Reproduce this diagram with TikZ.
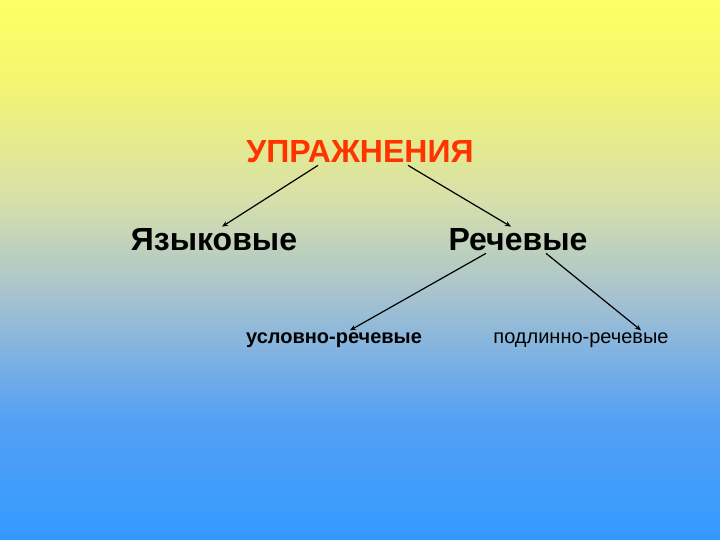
\documentclass[tikz,border=0pt]{standalone}
\usepackage{fontspec}
\setmainfont{Liberation Sans}
\usetikzlibrary{arrows.meta}

\definecolor{titlered}{HTML}{FF3300}
\pgfdeclareverticalshading{slidebg}{100bp}{
	color(0bp)=(rgb,255:red,51;green,153;blue,255);
	color(25bp)=(rgb,255:red,51;green,153;blue,255);
	color(36.1bp)=(rgb,255:red,85;green,160;blue,245);
	color(48.2bp)=(rgb,255:red,170;green,196;blue,205);
	color(56.5bp)=(rgb,255:red,214;green,224;blue,170);
	color(67.6bp)=(rgb,255:red,245;green,245;blue,112);
	color(75bp)=(rgb,255:red,255;green,255;blue,102);
	color(100bp)=(rgb,255:red,255;green,255;blue,102)}

\begin{document}
\begin{tikzpicture}[x=1pt, y=1pt,
		every node/.style={ text=black, inner sep=2pt, font=\bfseries },
		arr/.style={ -{Stealth[length=6pt, width=5pt]}, line width=1.2pt } ]

	% background
	\useasboundingbox (0,0) rectangle (720,540);
	\shade[shading=slidebg] (0,0) rectangle (720,540);

	\node (upr) at (360,388) {\fontsize{32}{36}\selectfont\color{titlered}УПРАЖНЕНИЯ};
	\node (yaz) at (214,300) {\fontsize{32}{36}\selectfont Языковые};
	\node (rech) at (518,300) {\fontsize{32}{36}\selectfont Речевые};
	\node (usl) at (334,200) {\fontsize{20}{24}\selectfont условно-речевые};
	\node (podl) at (581,200) {\fontsize{20}{24}\selectfont\mdseries подлинно-речевые};

	\draw[arr] ([xshift=-42pt]upr.south) -- ([xshift=8pt]yaz.north);
	\draw[arr] ([xshift=48pt]upr.south) -- ([xshift=-7pt]rech.north);
	\draw[arr] ([xshift=-32pt]rech.south) -- ([xshift=16pt]usl.north);
	\draw[arr] ([xshift=28pt]rech.south) -- ([xshift=60pt]podl.north);
\end{tikzpicture}
\end{document}
